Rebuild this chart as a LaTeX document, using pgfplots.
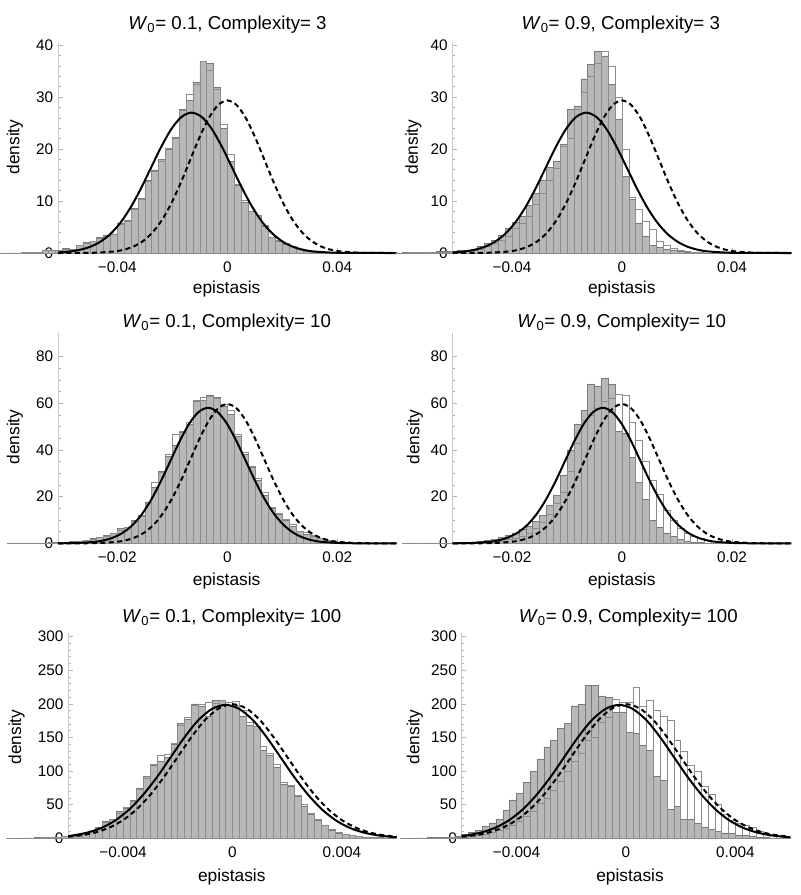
\documentclass[border=0pt]{standalone}
\usepackage{fontspec}
\setmainfont{Liberation Sans}
\usepackage{pgfplots}
\usepackage{pgfplotstable}
\pgfplotsset{compat=1.18}

\definecolor{histfill}{gray}{0.72}
\definecolor{histedge}{gray}{0.48}
\definecolor{wedge}{gray}{0.55}

\pgfplotsset{
  mma/.style={
    anchor=south west, scale only axis, clip=false,
    axis lines=left, axis line style={-},
    x axis line style={-, draw=black!50, line width=0.6pt},
    y axis line style={-, draw=black!22, line width=0.6pt},
    tick align=inside,
    major tick length=3.5pt, minor tick length=2pt,
    tick style={draw=black!30, line width=0.5pt},
    ymin=0, scaled x ticks=false, scaled y ticks=false,
    ticklabel style={font=\fontsize{11.5}{13}\selectfont, text=black},
    yticklabel style={anchor=east, inner sep=0pt, xshift=-3.5pt},
    xticklabel style={anchor=north, inner sep=0pt, yshift=-6.5pt},
  },
  ghist/.style={ybar interval, fill=histfill, draw=histedge, line width=0.4pt},
  whist/.style={ybar interval, fill=none, draw=wedge, line width=0.4pt},
  solidc/.style={black, line width=1.5pt, smooth, mark=none},
  dashc/.style={black, line width=1.5pt, smooth, mark=none, dash pattern=on 3.75pt off 2.6pt},
}

% ---------------- histograms: left bin edge, grey bar, white bar
\pgfplotstableread{
x g w
-0.0825 0.02 0.02
-0.08 0.02 0.02
-0.0775 0.02 0.02
-0.075 0.1 0.08
-0.0725 0.1 0.08
-0.07 0.1 0.1
-0.0675 0.6 0.5
-0.065 0.6 0.5
-0.0625 0.5 0.5
-0.06 0.9 0.8
-0.0575 0.6 0.7
-0.055 1.5 1.4
-0.0525 2.0 1.9
-0.05 2.3 2.2
-0.0475 3.0 2.8
-0.045 3.4 3.2
-0.0425 3.7 3.6
-0.04 5.8 5.5
-0.0375 6.3 6.1
-0.035 8.6 8.4
-0.0325 10.5 10.3
-0.03 14.0 13.8
-0.0275 16.0 15.8
-0.025 18.0 17.6
-0.0225 19.9 20.2
-0.02 22.2 22.0
-0.0175 27.7 27.5
-0.015 29.4 30.6
-0.0125 32.8 32.5
-0.01 36.9 36.9
-0.0075 36.5 35.2
-0.005 31.8 31.5
-0.0025 24.0 24.8
0 17.6 19.0
0.0025 13.0 13.3
0.005 9.8 10.2
0.0075 8.0 8.0
0.01 7.3 7.2
0.0125 5.2 5.4
0.015 3.0 3.1
0.0175 2.3 2.4
0.02 1.7 1.8
0.0225 1.3 1.2
0.025 0.8 0.8
0.0275 0.4 0.4
0.03 0.2 0.2
0.0325 0.1 0.1
0.035 0 0
}\histA

\pgfplotstableread{
x g w
-0.0825 0.02 0.02
-0.08 0.05 0.02
-0.0775 0.1 0.05
-0.075 0.1 0.05
-0.0725 0.15 0.1
-0.07 0.2 0.1
-0.0675 0.25 0.15
-0.065 0.3 0.2
-0.0625 0.4 0.25
-0.06 0.5 0.3
-0.0575 0.6 0.4
-0.055 0.8 0.5
-0.0525 1.2 0.8
-0.05 1.8 1.2
-0.0475 2.5 1.8
-0.045 3.5 2.5
-0.0425 4.8 3.3
-0.04 5.9 4.7
-0.0375 7.0 5.8
-0.035 9.2 7.0
-0.0325 11.5 9.3
-0.03 14.0 11.4
-0.0275 16.5 14.0
-0.025 17.7 16.3
-0.0225 21.0 20.5
-0.02 27.7 22.0
-0.0175 28.3 27.7
-0.015 33.5 31.0
-0.0125 36.3 34.0
-0.01 38.8 36.5
-0.0075 37.9 38.9
-0.005 32.5 36.0
-0.0025 25.8 30.0
0 14.7 20.0
0.0025 10.3 10.8
0.005 5.8 8.5
0.0075 3.3 6.2
0.01 1.5 4.5
0.0125 1.1 2.3
0.015 0.8 1.5
0.0175 0.5 1.0
0.02 0.3 0.6
0.0225 0.2 0.4
0.025 0.1 0.2
0.0275 0.05 0.1
0.03 0 0
}\histB

\pgfplotstableread{
x g w
-0.04 0.15 0.1
-0.03875 0.15 0.1
-0.0375 0 0
-0.03625 0.15 0.1
-0.035 0.15 0.1
-0.03375 0.2 0.15
-0.0325 0.3 0.2
-0.03125 0.4 0.3
-0.03 0.5 0.4
-0.02875 0.7 0.6
-0.0275 1.0 0.9
-0.02625 1.4 1.3
-0.025 2.0 1.8
-0.02375 2.5 2.4
-0.0225 3.3 3.0
-0.02125 4.5 4.2
-0.02 6.3 5.8
-0.01875 7.0 6.8
-0.0175 10.0 9.6
-0.01625 12.0 11.5
-0.015 17.5 17.0
-0.01375 24.0 26.0
-0.0125 31.0 30.5
-0.01125 37.5 38.0
-0.01 42.0 46.9
-0.00875 47.5 48.0
-0.0075 51.0 52.0
-0.00625 61.1 61.5
-0.005 61.5 62.6
-0.00375 63.6 63.0
-0.0025 62.4 62.0
-0.00125 58.6 59.5
0 55.4 57.0
0.00125 45.7 46.6
0.0025 38.0 39.0
0.00375 32.5 33.0
0.005 27.0 27.8
0.00625 20.4 21.8
0.0075 15.0 15.6
0.00875 12.3 12.8
0.01 10.0 10.5
0.01125 7.4 8.0
0.0125 5.0 5.3
0.01375 4.0 4.6
0.015 2.9 3.3
0.01625 2.0 2.3
0.0175 1.3 1.5
0.01875 0.8 1.0
0.02 0.5 0.6
0.02125 0.3 0.4
0.0225 0.2 0.2
0.02375 0.1 0.1
0.025 0 0
}\histC

\pgfplotstableread{
x g w
-0.04 0.15 0.1
-0.03875 0.15 0.1
-0.0375 0 0
-0.03625 0.15 0.1
-0.035 0.15 0.1
-0.03375 0.15 0.1
-0.0325 0.15 0.1
-0.03125 0.2 0.1
-0.03 0.3 0.15
-0.02875 0.4 0.2
-0.0275 0.6 0.3
-0.02625 0.9 0.4
-0.025 1.3 0.5
-0.02375 1.8 0.8
-0.0225 2.5 1.1
-0.02125 3.3 1.6
-0.02 4.5 2.3
-0.01875 6.0 3.2
-0.0175 7.5 4.5
-0.01625 9.5 6.5
-0.015 12.0 9.0
-0.01375 16.5 12.5
-0.0125 20.5 17.0
-0.01125 29.3 22.0
-0.01 40.0 30.7
-0.00875 51.0 43.0
-0.0075 57.0 52.6
-0.00625 68.3 55.0
-0.005 67.5 58.0
-0.00375 70.7 61.0
-0.0025 68.0 62.0
-0.00125 48.0 64.0
0 47.0 63.5
0.00125 37.0 52.0
0.0025 26.0 44.0
0.00375 19.0 35.0
0.005 10.0 27.0
0.00625 7.0 21.0
0.0075 4.5 14.0
0.00875 3.0 10.0
0.01 1.8 6.5
0.01125 1.1 4.5
0.0125 0.6 3.0
0.01375 0.3 2.0
0.015 0.2 1.3
0.01625 0.1 0.8
0.0175 0.05 0.5
0.01875 0 0.3
0.02 0 0.2
0.02125 0 0
}\histD

\pgfplotstableread{
x g w
-0.00825 0.3 0.3
-0.008 0.4 0.3
-0.00775 0.5 0.5
-0.0075 0.6 0.5
-0.00725 0.8 0.7
-0.007 1.0 1.0
-0.00675 1.3 1.2
-0.0065 1.8 1.6
-0.00625 2.5 2.3
-0.006 3.5 3.3
-0.00575 5.0 4.5
-0.0055 8.0 7.5
-0.00525 11.0 10.5
-0.005 16.0 15.0
-0.00475 25.0 24.0
-0.0045 28.0 29.0
-0.00425 40.0 37.0
-0.004 45.0 46.0
-0.00375 56.0 55.0
-0.0035 75.0 73.0
-0.00325 92.0 90.0
-0.003 108.0 110.0
-0.00275 115.0 123.0
-0.0025 121.0 125.0
-0.00225 140.0 142.0
-0.002 171.0 168.0
-0.00175 177.0 180.0
-0.0015 200.0 198.0
-0.00125 197.0 199.0
-0.001 181.0 203.0
-0.00075 205.0 201.0
-0.0005 206.0 206.0
-0.00025 198.0 203.0
0 198.0 204.0
0.00025 182.0 191.0
0.0005 168.6 172.0
0.00075 167.0 167.0
0.001 131.0 137.0
0.00125 124.0 126.0
0.0015 105.0 110.0
0.00175 80.0 84.0
0.002 78.0 79.0
0.00225 63.0 64.0
0.0025 47.0 50.0
0.00275 36.0 37.0
0.003 27.0 28.0
0.00325 20.0 20.0
0.0035 12.0 13.0
0.00375 8.0 9.0
0.004 6.0 6.0
0.00425 4.0 4.0
0.0045 3.0 3.0
0.00475 2.0 2.0
0.005 1.5 1.5
0.00525 1.0 1.0
0.0055 0.6 0.6
0.00575 0.4 0.4
0.006 0 0
}\histE

\pgfplotstableread{
x g w
-0.00825 0.3 0.1
-0.008 0.4 0.1
-0.00775 0.5 0.2
-0.0075 0.6 0.2
-0.00725 0.8 0.3
-0.007 1.0 0.4
-0.00675 1.4 0.6
-0.0065 2.0 1.0
-0.00625 3.0 1.5
-0.006 6.0 2.0
-0.00575 9.0 3.0
-0.0055 12.0 5.0
-0.00525 18.0 6.0
-0.005 23.0 9.0
-0.00475 28.0 12.0
-0.0045 42.0 15.0
-0.00425 57.0 20.0
-0.004 67.0 25.0
-0.00375 84.0 33.0
-0.0035 100.0 40.0
-0.00325 118.0 52.0
-0.003 136.0 60.0
-0.00275 146.0 72.0
-0.0025 164.0 85.0
-0.00225 171.0 100.0
-0.002 197.0 114.0
-0.00175 199.0 126.0
-0.0015 227.0 146.0
-0.00125 228.0 150.0
-0.001 212.0 172.0
-0.00075 210.0 180.0
-0.0005 187.0 207.0
-0.00025 187.0 202.0
0 157.0 203.0
0.00025 156.0 225.0
0.0005 139.0 196.0
0.00075 131.0 205.0
0.001 93.0 190.0
0.00125 86.0 181.0
0.0015 43.0 175.0
0.00175 47.0 146.0
0.002 28.0 130.0
0.00225 28.0 108.0
0.0025 22.0 100.0
0.00275 17.0 78.0
0.003 13.0 66.0
0.00325 10.0 50.0
0.0035 8.0 36.0
0.00375 7.0 27.0
0.004 5.0 22.0
0.00425 4.0 20.0
0.0045 2.5 16.0
0.00475 1.5 10.0
0.005 1.0 8.0
0.00525 0.6 5.0
0.0055 0.4 3.0
0.00575 0.2 2.0
0.006 0 0
}\histF

% ---------------- fitted curves
\pgfplotstableread{
x y
-0.0616 0.12
-0.05734 0.30
-0.05365 0.616
-0.04995 1.185
-0.04626 2.149
-0.04256 3.653
-0.03887 5.84
-0.03517 8.77
-0.03148 12.36
-0.02778 16.38
-0.02409 20.38
-0.02039 23.83
-0.0167 26.17
-0.013 27.0
-0.0093 26.17
-0.00561 23.83
-0.00192 20.38
0.00178 16.38
0.00548 12.36
0.00917 8.77
0.01287 5.84
0.01656 3.653
0.02026 2.149
0.02395 1.185
0.02765 0.616
0.03134 0.30
0.03873 0.059
0.04612 0.009
0.054 0.001
0.0616 0.0
}\solTop

\pgfplotstableread{
x y
-0.0616 0.0
-0.05436 0.0098
-0.04757 0.065
-0.04077 0.326
-0.03737 0.669
-0.03398 1.288
-0.03058 2.336
-0.02718 3.971
-0.02378 6.348
-0.02039 9.53
-0.01699 13.44
-0.01359 17.80
-0.01019 22.15
-0.0068 25.90
-0.0034 28.45
0 29.35
0.0034 28.45
0.0068 25.90
0.01019 22.15
0.01359 17.80
0.01699 13.44
0.02039 9.53
0.02378 6.348
0.02718 3.971
0.03058 2.336
0.03398 1.288
0.03737 0.669
0.04077 0.326
0.04757 0.065
0.05436 0.0098
0.0616 0.0
}\dasTop

\pgfplotstableread{
x y
-0.0308 0.02
-0.02755 0.128
-0.02411 0.645
-0.02239 1.325
-0.02068 2.551
-0.01896 4.625
-0.01724 7.861
-0.01552 12.57
-0.01381 18.86
-0.01209 26.60
-0.01037 35.24
-0.00865 43.85
-0.00694 51.27
-0.00522 56.31
-0.0035 58.1
-0.00178 56.31
-0.00007 51.27
0.00165 43.85
0.00337 35.24
0.00509 26.60
0.00681 18.86
0.00852 12.57
0.01024 7.861
0.01196 4.625
0.01368 2.551
0.01539 1.325
0.01711 0.645
0.02055 0.128
0.02398 0.019
0.0275 0.002
0.0308 0.0
}\solMid

\pgfplotstableread{
x y
-0.0308 0.0
-0.02672 0.02
-0.02338 0.131
-0.02004 0.663
-0.01837 1.361
-0.0167 2.621
-0.01503 4.752
-0.01336 8.077
-0.01169 12.91
-0.01002 19.38
-0.00835 27.33
-0.00668 36.21
-0.00501 45.06
-0.00334 52.69
-0.00167 57.86
0 59.7
0.00167 57.86
0.00334 52.69
0.00501 45.06
0.00668 36.21
0.00835 27.33
0.01002 19.38
0.01169 12.91
0.01336 8.077
0.01503 4.752
0.0167 2.621
0.01837 1.361
0.02004 0.663
0.02338 0.131
0.02672 0.02
0.0308 0.0
}\dasMid

\pgfplotstableread{
x y
-0.006 3.3
-0.00578 4.53
-0.00528 8.71
-0.00477 15.80
-0.00427 26.86
-0.00377 42.94
-0.00327 64.45
-0.00276 90.87
-0.00226 120.39
-0.00176 149.83
-0.00126 175.18
-0.00075 192.39
-0.00025 198.5
0.00025 192.39
0.00076 175.18
0.00126 149.83
0.00176 120.39
0.00226 90.87
0.00277 64.45
0.00327 42.94
0.00377 26.86
0.00427 15.80
0.00478 8.71
0.00528 4.53
0.00578 2.20
0.006 1.57
}\solBot

\pgfplotstableread{
x y
-0.006 2.21
-0.0055 4.55
-0.005 8.76
-0.0045 15.88
-0.004 27.0
-0.0035 43.15
-0.003 64.78
-0.0025 91.33
-0.002 121.0
-0.0015 150.58
-0.001 176.06
-0.0005 193.36
0 199.5
0.0005 193.36
0.001 176.06
0.0015 150.58
0.002 121.0
0.0025 91.33
0.003 64.78
0.0035 43.15
0.004 27.0
0.0045 15.88
0.005 8.76
0.0055 4.55
0.006 2.21
}\dasBot

\newcommand{\ttl}[1]{{\fontsize{14}{16}\selectfont #1}}
\newcommand{\lbl}{\fontsize{13}{15}\selectfont}

\begin{document}
\begin{tikzpicture}
\useasboundingbox (0,0) rectangle (600pt,-671.25pt);

% ---------- row 1
\begin{axis}[mma, at={(43.5pt,-189.75pt)}, width=254pt, height=157.5pt,
  xmin=-0.0616, xmax=0.0616, ymax=40.4,
  xtick={-0.04,0,0.04}, xticklabels={−0.04,0,0.04},
  ytick={0,10,20,30,40}, yticklabels={0,10,20,30,40}, minor y tick num=4]
\addplot[ghist] table[x=x,y=g]{\histA};
\addplot[whist] table[x=x,y=w]{\histA};
\addplot[solidc] table[x=x,y=y]{\solTop};
\addplot[dashc] table[x=x,y=y]{\dasTop};
\end{axis}

\begin{axis}[mma, at={(339.5pt,-189.75pt)}, width=254pt, height=157.5pt,
  xmin=-0.0616, xmax=0.0616, ymax=40.4,
  xtick={-0.04,0,0.04}, xticklabels={−0.04,0,0.04},
  ytick={0,10,20,30,40}, yticklabels={0,10,20,30,40}, minor y tick num=4]
\addplot[ghist] table[x=x,y=g]{\histB};
\addplot[whist] table[x=x,y=w]{\histB};
\addplot[solidc] table[x=x,y=y]{\solTop};
\addplot[dashc] table[x=x,y=y]{\dasTop};
\end{axis}

% ---------- row 2
\begin{axis}[mma, at={(43.5pt,-407.5pt)}, width=254pt, height=157.5pt,
  xmin=-0.0308, xmax=0.0308, ymax=90,
  xtick={-0.02,0,0.02}, xticklabels={−0.02,0,0.02},
  ytick={0,20,40,60,80}, yticklabels={0,20,40,60,80}, minor y tick num=3]
\addplot[ghist] table[x=x,y=g]{\histC};
\addplot[whist] table[x=x,y=w]{\histC};
\addplot[solidc] table[x=x,y=y]{\solMid};
\addplot[dashc] table[x=x,y=y]{\dasMid};
\end{axis}

\begin{axis}[mma, at={(339.5pt,-407.5pt)}, width=254pt, height=157.5pt,
  xmin=-0.0308, xmax=0.0308, ymax=90,
  xtick={-0.02,0,0.02}, xticklabels={−0.02,0,0.02},
  ytick={0,20,40,60,80}, yticklabels={0,20,40,60,80}, minor y tick num=3]
\addplot[ghist] table[x=x,y=g]{\histD};
\addplot[whist] table[x=x,y=w]{\histD};
\addplot[solidc] table[x=x,y=y]{\solMid};
\addplot[dashc] table[x=x,y=y]{\dasMid};
\end{axis}

% ---------- row 3
\begin{axis}[mma, at={(51.2pt,-628.7pt)}, width=246.3pt, height=154pt,
  xmin=-0.006, xmax=0.006, ymax=305.5,
  xtick={-0.004,0,0.004}, xticklabels={−0.004,0,0.004},
  ytick={0,50,100,150,200,250,300}, yticklabels={0,50,100,150,200,250,300}, minor y tick num=4]
\addplot[ghist] table[x=x,y=g]{\histE};
\addplot[whist] table[x=x,y=w]{\histE};
\addplot[solidc] table[x=x,y=y]{\solBot};
\addplot[dashc] table[x=x,y=y]{\dasBot};
\end{axis}

\begin{axis}[mma, at={(346.3pt,-628.7pt)}, width=246.3pt, height=154pt,
  xmin=-0.006, xmax=0.006, ymax=305.5,
  xtick={-0.004,0,0.004}, xticklabels={−0.004,0,0.004},
  ytick={0,50,100,150,200,250,300}, yticklabels={0,50,100,150,200,250,300}, minor y tick num=4]
\addplot[ghist] table[x=x,y=g]{\histF};
\addplot[whist] table[x=x,y=w]{\histF};
\addplot[solidc] table[x=x,y=y]{\solBot};
\addplot[dashc] table[x=x,y=y]{\dasBot};
\end{axis}

% ---------- titles
\node[anchor=base] at (170.6pt,-22.5pt) {\ttl{\textit{W}\textsubscript{0}= 0.1, Complexity= 3}};
\node[anchor=base] at (465.6pt,-22.5pt) {\ttl{\textit{W}\textsubscript{0}= 0.9, Complexity= 3}};
\node[anchor=base] at (170pt,-245.6pt) {\ttl{\textit{W}\textsubscript{0}= 0.1, Complexity= 10}};
\node[anchor=base] at (466.3pt,-245.6pt) {\ttl{\textit{W}\textsubscript{0}= 0.9, Complexity= 10}};
\node[anchor=base] at (173.8pt,-466.7pt) {\ttl{\textit{W}\textsubscript{0}= 0.1, Complexity= 100}};
\node[anchor=base] at (471.2pt,-466.7pt) {\ttl{\textit{W}\textsubscript{0}= 0.9, Complexity= 100}};

% ---------- x labels
\node[anchor=base, font=\lbl] at (170pt,-220pt) {epistasis};
\node[anchor=base, font=\lbl] at (466.3pt,-220pt) {epistasis};
\node[anchor=base, font=\lbl] at (170pt,-438.75pt) {epistasis};
\node[anchor=base, font=\lbl] at (466.3pt,-438.75pt) {epistasis};
\node[anchor=base, font=\lbl] at (173.8pt,-661.3pt) {epistasis};
\node[anchor=base, font=\lbl] at (472.5pt,-661.3pt) {epistasis};

% ---------- y labels
\node[rotate=90, font=\lbl] at (11.25pt,-110.25pt) {density};
\node[rotate=90, font=\lbl] at (310pt,-110.25pt) {density};
\node[rotate=90, font=\lbl] at (11.25pt,-327.75pt) {density};
\node[rotate=90, font=\lbl] at (311.25pt,-327.75pt) {density};
\node[rotate=90, font=\lbl] at (12.5pt,-552.75pt) {density};
\node[rotate=90, font=\lbl] at (311.25pt,-552.75pt) {density};
\end{tikzpicture}
\end{document}
